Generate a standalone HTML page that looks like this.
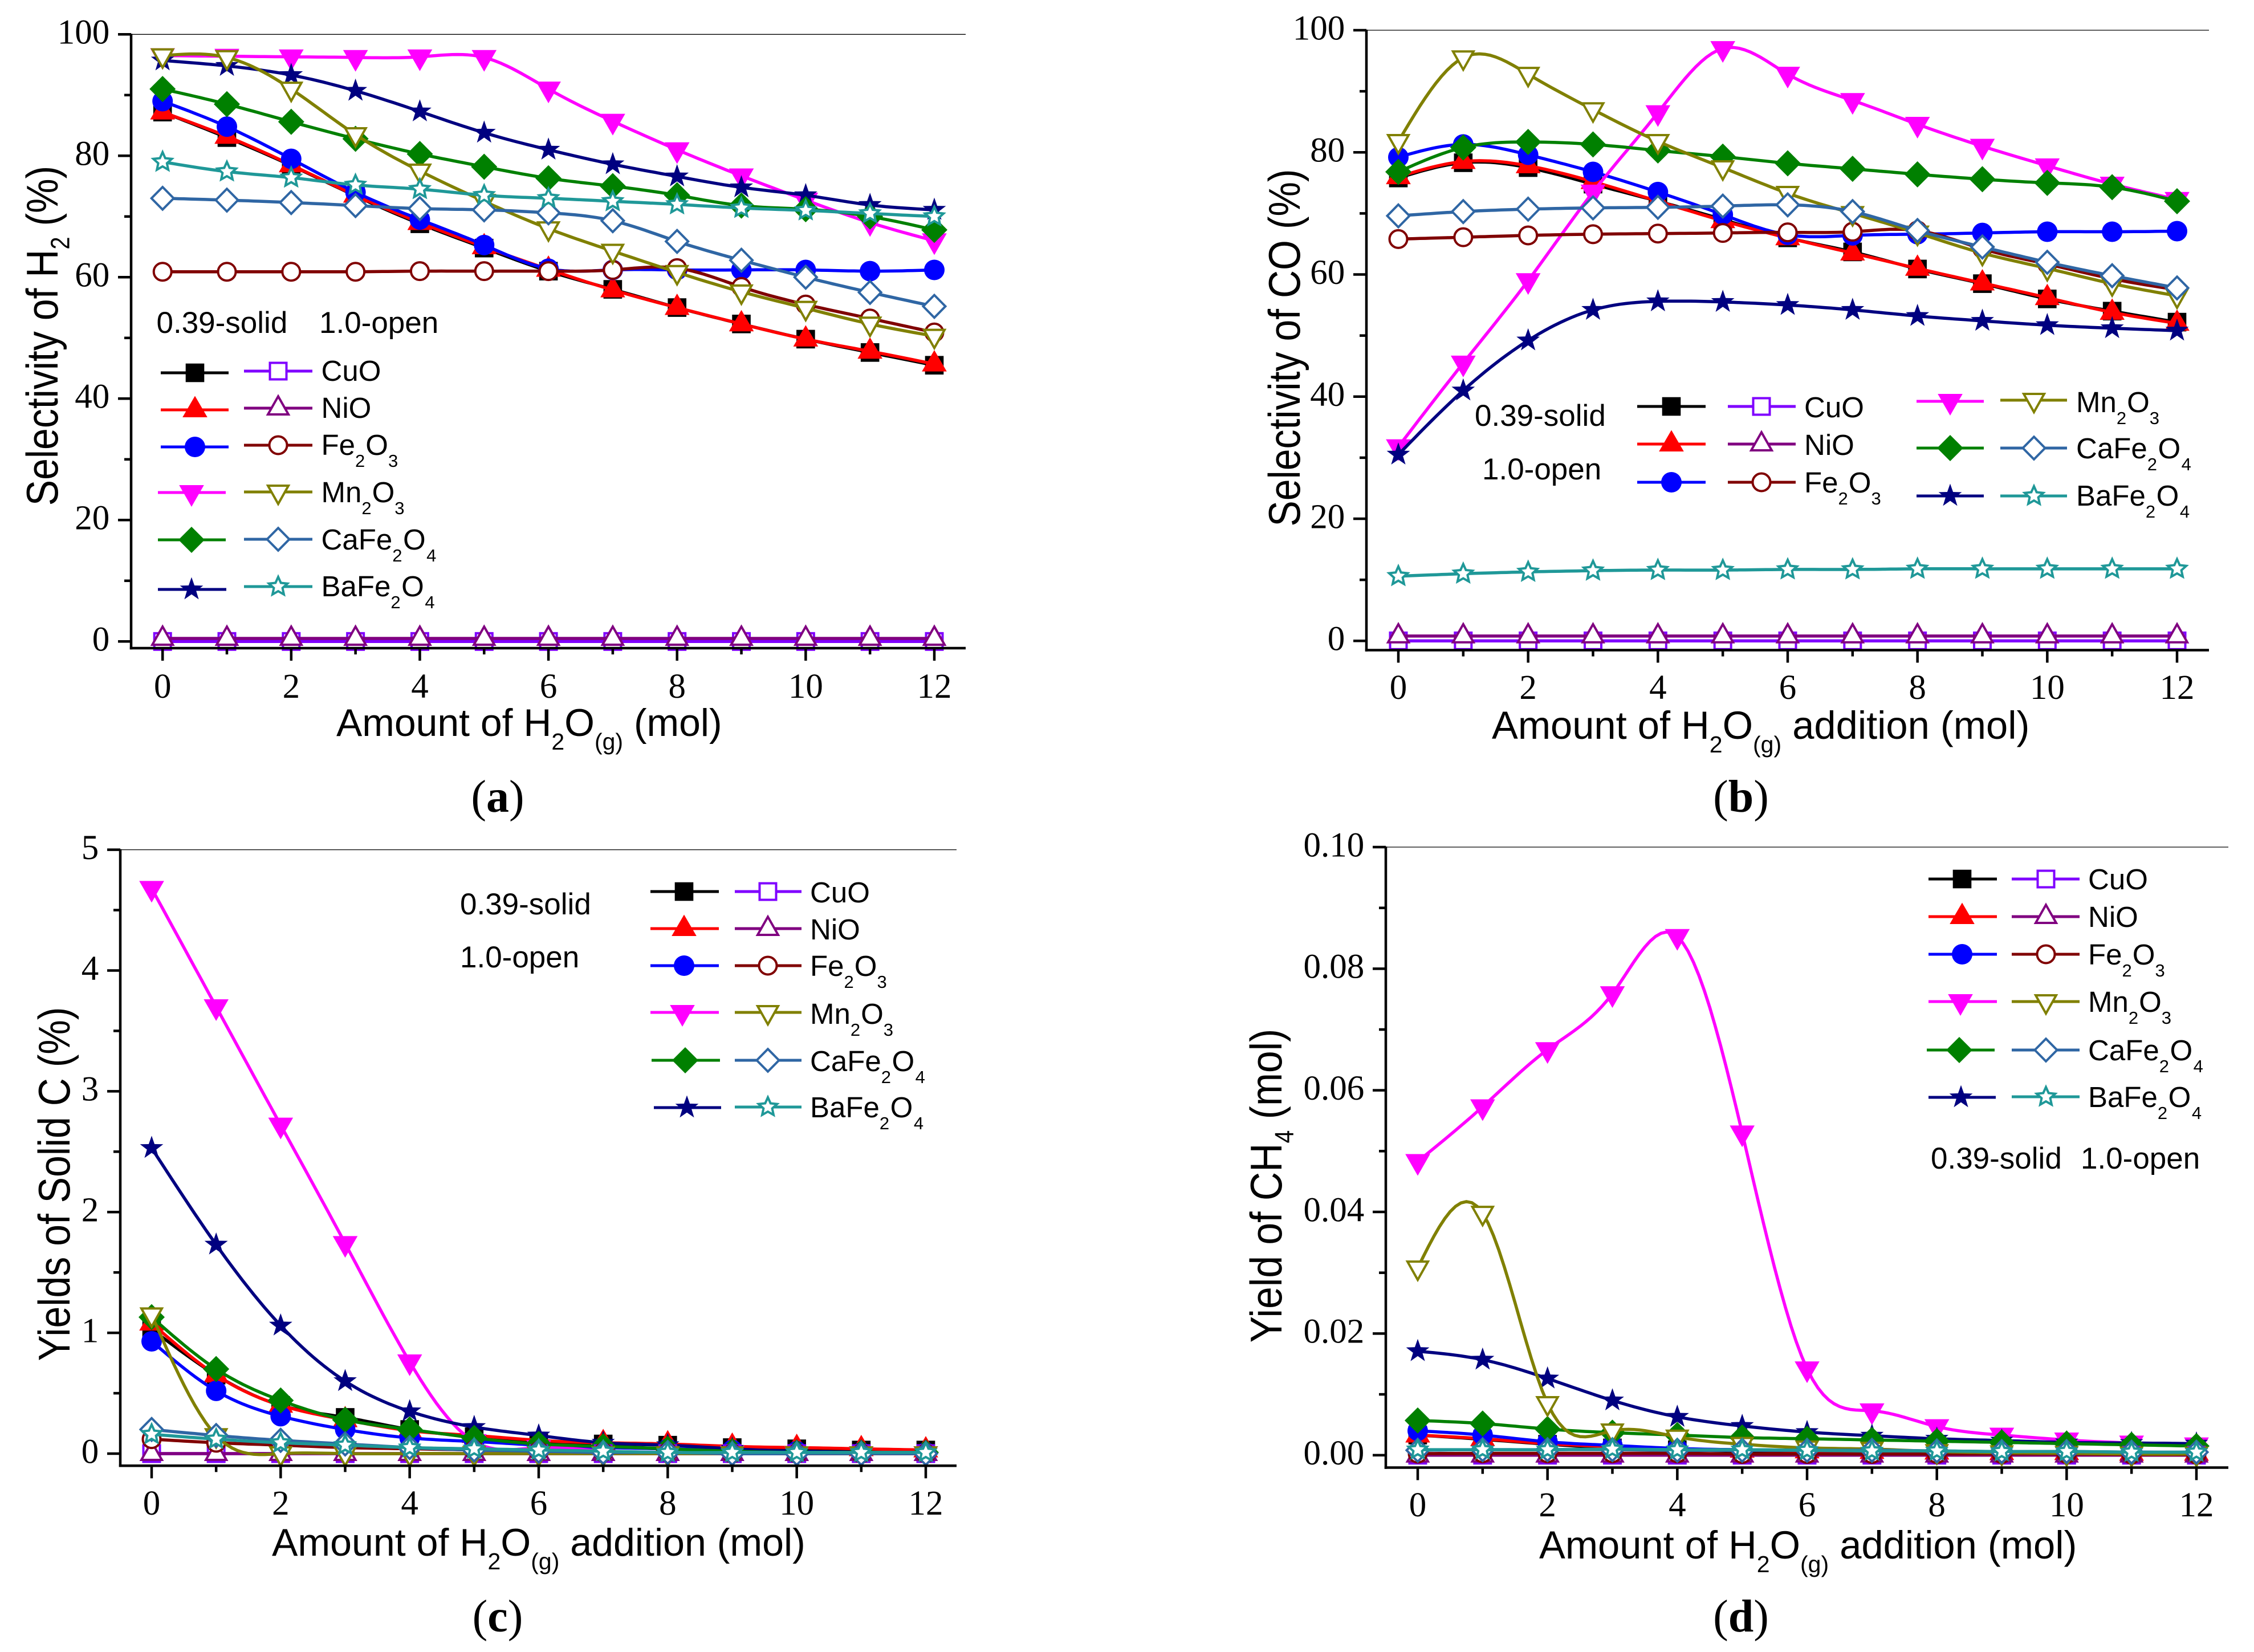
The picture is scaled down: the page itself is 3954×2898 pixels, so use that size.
<!DOCTYPE html>
<html lang="en">
<head>
<meta charset="utf-8">
<title>Selectivity and yields versus H2O addition</title>
<style>
html,body{margin:0;padding:0;background:#fff;}
svg{display:block;}
.lg{font-family:"Liberation Sans",sans-serif;font-size:51px;fill:#000;}
.nt{font-family:"Liberation Sans",sans-serif;font-size:53px;fill:#000;}
.ti{font-family:"Liberation Sans",sans-serif;font-size:68.7px;fill:#000;}
.ty{font-family:"Liberation Sans",sans-serif;font-size:68px;fill:#000;}
.tk{font-family:"Liberation Serif",serif;font-size:61px;fill:#000;}
.pl{font-family:"Liberation Serif",serif;font-size:80px;fill:#000;text-anchor:middle;}
.pl .b{font-weight:bold;}
.s{font-size:31px;}
.ss{font-size:41px;}
.sy{font-size:40px;}
</style>
</head>
<body>
<svg id="figure" xmlns="http://www.w3.org/2000/svg" width="3954" height="2898" viewBox="0 0 3954 2898">
<rect width="3954" height="2898" fill="#fff"/>
<g id="plot-a"></g>
<g id="plot-b"></g>
<g id="plot-c"></g>
<g id="plot-d"></g>

<!-- axis titles -->
<text class="ty" text-anchor="middle" transform="translate(101,589) rotate(-90) scale(1,1.15)">Selectivity of H<tspan class="sy" dy="18">2</tspan><tspan dy="-18"> (%)</tspan></text>
<text class="ti" style="font-size:67.9px" x="590" y="1291">Amount of H<tspan class="ss" dy="24">2</tspan><tspan dy="-24">O</tspan><tspan class="ss" dy="24">(g)</tspan><tspan dy="-24"> (mol)</tspan></text>
<text class="ty" text-anchor="middle" transform="translate(2280,610) rotate(-90) scale(1,1.15)">Selectivity of CO (%)</text>
<text class="ti" x="2617" y="1296">Amount of H<tspan class="ss" dy="24">2</tspan><tspan dy="-24">O</tspan><tspan class="ss" dy="24">(g)</tspan><tspan dy="-24"> addition (mol)</tspan></text>
<text class="ty" text-anchor="middle" transform="translate(122,2077) rotate(-90) scale(1,1.15)">Yields of Solid C (%)</text>
<text class="ti" style="font-size:68.1px" x="477" y="2729">Amount of H<tspan class="ss" dy="24">2</tspan><tspan dy="-24">O</tspan><tspan class="ss" dy="24">(g)</tspan><tspan dy="-24"> addition (mol)</tspan></text>
<text class="ty" text-anchor="middle" transform="translate(2248,2080) rotate(-90) scale(1.025,1.15)">Yield of CH<tspan class="sy" dy="18">4</tspan><tspan dy="-18"> (mol)</tspan></text>
<text class="ti" x="2700" y="2734">Amount of H<tspan class="ss" dy="24">2</tspan><tspan dy="-24">O</tspan><tspan class="ss" dy="24">(g)</tspan><tspan dy="-24"> addition (mol)</tspan></text>

<!-- panel captions -->
<text class="pl" x="873" y="1424">(<tspan class="b">a</tspan>)</text>
<text class="pl" x="3054" y="1424">(<tspan class="b">b</tspan>)</text>
<text class="pl" x="873" y="2862">(<tspan class="b">c</tspan>)</text>
<text class="pl" x="3054" y="2862">(<tspan class="b">d</tspan>)</text>

<!-- annotations -->
<text class="nt" x="274.5" y="584">0.39-solid</text>
<text class="nt" x="560" y="584">1.0-open</text>
<text class="nt" x="2587" y="747">0.39-solid</text>
<text class="nt" x="2600" y="841">1.0-open</text>
<text class="nt" x="807" y="1604">0.39-solid</text>
<text class="nt" x="807" y="1697">1.0-open</text>
<text class="nt" x="3387" y="2050">0.39-solid</text>
<text class="nt" x="3650" y="2050">1.0-open</text>

<!-- legend labels panel a -->
<text class="lg" x="563.5" y="668">CuO</text>
<text class="lg" x="563.5" y="733">NiO</text>
<text class="lg" x="563.5" y="798">Fe<tspan class="s" dy="21">2</tspan><tspan dy="-21" dx="1">O</tspan><tspan class="s" dy="21">3</tspan></text>
<text class="lg" x="563.5" y="881">Mn<tspan class="s" dy="21">2</tspan><tspan dy="-21" dx="1">O</tspan><tspan class="s" dy="21">3</tspan></text>
<text class="lg" x="563.5" y="964">CaFe<tspan class="s" dy="21">2</tspan><tspan dy="-21" dx="1.5">O</tspan><tspan class="s" dy="21" dx="1.5">4</tspan></text>
<text class="lg" x="563.5" y="1046">BaFe<tspan class="s" dy="21">2</tspan><tspan dy="-21" dx="1.5">O</tspan><tspan class="s" dy="21" dx="1.5">4</tspan></text>
<!-- legend labels panel b -->
<text class="lg" x="3165" y="732">CuO</text>
<text class="lg" x="3165" y="798">NiO</text>
<text class="lg" x="3165" y="864">Fe<tspan class="s" dy="21">2</tspan><tspan dy="-21" dx="1">O</tspan><tspan class="s" dy="21">3</tspan></text>
<text class="lg" x="3642" y="723">Mn<tspan class="s" dy="21">2</tspan><tspan dy="-21" dx="1">O</tspan><tspan class="s" dy="21">3</tspan></text>
<text class="lg" x="3642" y="804">CaFe<tspan class="s" dy="21">2</tspan><tspan dy="-21" dx="1.5">O</tspan><tspan class="s" dy="21" dx="1.5">4</tspan></text>
<text class="lg" x="3642" y="887">BaFe<tspan class="s" dy="21">2</tspan><tspan dy="-21" dx="1.5">O</tspan><tspan class="s" dy="21" dx="1.5">4</tspan></text>
<!-- legend labels panel c -->
<text class="lg" x="1421" y="1583">CuO</text>
<text class="lg" x="1421" y="1648">NiO</text>
<text class="lg" x="1421" y="1712">Fe<tspan class="s" dy="21">2</tspan><tspan dy="-21" dx="1">O</tspan><tspan class="s" dy="21">3</tspan></text>
<text class="lg" x="1421" y="1796">Mn<tspan class="s" dy="21">2</tspan><tspan dy="-21" dx="1">O</tspan><tspan class="s" dy="21">3</tspan></text>
<text class="lg" x="1421" y="1879">CaFe<tspan class="s" dy="21">2</tspan><tspan dy="-21" dx="1.5">O</tspan><tspan class="s" dy="21" dx="1.5">4</tspan></text>
<text class="lg" x="1421" y="1960">BaFe<tspan class="s" dy="21">2</tspan><tspan dy="-21" dx="1.5">O</tspan><tspan class="s" dy="21" dx="1.5">4</tspan></text>
<!-- legend labels panel d -->
<text class="lg" x="3663" y="1560">CuO</text>
<text class="lg" x="3663" y="1626">NiO</text>
<text class="lg" x="3663" y="1692">Fe<tspan class="s" dy="21">2</tspan><tspan dy="-21" dx="1">O</tspan><tspan class="s" dy="21">3</tspan></text>
<text class="lg" x="3663" y="1775">Mn<tspan class="s" dy="21">2</tspan><tspan dy="-21" dx="1">O</tspan><tspan class="s" dy="21">3</tspan></text>
<text class="lg" x="3663" y="1860">CaFe<tspan class="s" dy="21">2</tspan><tspan dy="-21" dx="1.5">O</tspan><tspan class="s" dy="21" dx="1.5">4</tspan></text>
<text class="lg" x="3663" y="1942">BaFe<tspan class="s" dy="21">2</tspan><tspan dy="-21" dx="1.5">O</tspan><tspan class="s" dy="21" dx="1.5">4</tspan></text>
</svg>

<script>
// ---------- categories and tick labels ----------
const categories = [0,1,2,3,4,5,6,7,8,9,10,11,12];
const xTickLabels = [0,2,4,6,8,10,12];
const yTicksA = [0,20,40,60,80,100];
const yTicksB = [0,20,40,60,80,100];
const yTicksC = [0,1,2,3,4,5];
const yTicksD = [0,0.02,0.04,0.06,0.08,0.10];

// ---------- panel a: selectivity of H2 ----------
const aCuO   = [87.2,83,78.4,73.4,68.8,64.8,61,58,55,52.3,49.8,47.6,45.5];
const aNiO   = [87.2,83.2,78.5,73.5,69,65,61.3,57.9,55,52.3,49.8,47.8,45.7];
const aFe    = [89,84.8,79.5,74,69.5,65.3,61.4,61.2,61.2,61.2,61.2,61,61.2];
const aMn    = [96.5,96.4,96.3,96.2,96.3,96.2,91,85.7,81,76.7,72.7,69,66];
const aCa    = [91,88.5,85.6,82.8,80.3,78.2,76.3,75,73.5,71.8,71.2,70,67.8];
const aBa    = [95.7,94.8,93.3,90.7,87.3,83.8,81,78.6,76.6,74.8,73.5,71.9,71.1];
const aCuOo  = [0,0,0,0,0,0,0,0,0,0,0,0,0];
const aNiOo  = [0.5,0.5,0.5,0.5,0.5,0.5,0.5,0.5,0.5,0.5,0.5,0.5,0.5];
const aFeo   = [60.9,60.9,60.9,60.9,61,61,61,61.2,61.5,58.4,55.5,53.2,50.9];
const aMno   = [96.5,96.2,91,83.5,77.5,72.5,68,64.3,60.8,57.6,54.9,52.3,50.3];
const aCao   = [73,72.7,72.3,71.8,71.3,71.1,70.6,69.3,65.9,62.8,60,57.5,55.2];
const aBao   = [79,77.4,76.4,75.2,74.5,73.5,73,72.5,72,71.4,71,70.5,70];

// ---------- panel b: selectivity of CO ----------
const bCuO   = [75.8,78.3,77.5,74.8,72,69,66,63.7,60.9,58.5,56,54,52.2];
const bNiO   = [76,78.5,77.8,75.2,72,68.8,66,63.5,61,58.6,56.2,53.8,52];
const bFe    = [79.2,81.3,79.6,76.8,73.5,69.8,66.5,66.4,66.6,66.8,67,67,67.1];
const bMn    = [31.8,45.5,59,73.5,86.5,97,92.8,88.5,84.6,81,77.8,74.8,72.3];
const bCa    = [76.8,80.8,81.7,81.3,80.3,79.3,78.2,77.3,76.4,75.6,75,74.3,72];
const bBa    = [30.5,41,49.2,54.2,55.6,55.5,55,54.2,53.2,52.4,51.7,51.2,50.8];
const bCuOo  = [0,0,0,0,0,0,0,0,0,0,0,0,0];
const bNiOo  = [0.8,0.8,0.8,0.8,0.8,0.8,0.8,0.8,0.8,0.8,0.8,0.8,0.8];
const bFeo   = [65.8,66.1,66.4,66.6,66.7,66.8,66.9,67,67.2,64.2,61.7,59.3,57.5];
const bMno   = [81.8,95.5,92.8,87,81.8,77.5,73.3,70,66.8,63.5,61,58.5,56.5];
const bCao   = [69.6,70.3,70.7,70.9,71,71.2,71.4,70.3,67.2,64.5,62,59.8,57.8];
const bBao   = [10.6,11,11.3,11.5,11.6,11.6,11.7,11.7,11.8,11.8,11.8,11.8,11.8];

// ---------- panel c: yields of solid C ----------
const cCuO   = [1.03,0.65,0.4,0.3,0.2,0.14,0.1,0.08,0.07,0.05,0.04,0.03,0.03];
const cNiO   = [1.08,0.65,0.4,0.28,0.19,0.15,0.11,0.09,0.08,0.06,0.05,0.04,0.03];
const cFe    = [0.93,0.52,0.31,0.2,0.13,0.1,0.07,0.05,0.04,0.03,0.02,0.01,0.01];
const cMn    = [4.68,3.7,2.72,1.74,0.76,0.1,0.05,0.02,0.01,0.005,0,0,0];
const cCa    = [1.13,0.7,0.44,0.28,0.2,0.13,0.08,0.06,0.04,0.02,0.01,0.01,0.01];
const cBa    = [2.53,1.73,1.06,0.6,0.35,0.22,0.15,0.09,0.07,0.04,0.02,0.01,0.01];
const cCuOo  = [0,0,0,0,0,0,0,0,0,0,0,0,0];
const cNiOo  = [0,0,0,0,0,0,0,0,0,0,0,0,0];
const cFeo   = [0.12,0.09,0.07,0.05,0.04,0.03,0.02,0.01,0.01,0,0,0,0];
const cMno   = [1.15,0.15,0,0,0,0,0,0,0,0,0,0,0];
const cCao   = [0.2,0.15,0.11,0.08,0.05,0.03,0.02,0.01,0.01,0,0,0,0];
const cBao   = [0.16,0.12,0.09,0.07,0.05,0.04,0.03,0.02,0.01,0.01,0.01,0.01,0.01];

// ---------- panel d: yield of CH4 ----------
const dCuO   = [0.0033,0.0026,0.0018,0.0012,0.0009,0.0007,0.0006,0.0005,0.0004,0.0004,0.0003,0.0003,0.0002];
const dNiO   = [0.0033,0.0027,0.0019,0.0014,0.001,0.0008,0.0007,0.0006,0.0005,0.0004,0.0004,0.0003,0.0003];
const dFe    = [0.004,0.0033,0.0022,0.0016,0.0011,0.0009,0.0008,0.0007,0.0006,0.0006,0.0005,0.0005,0.0004];
const dMn    = [0.0483,0.0573,0.0667,0.0759,0.0853,0.053,0.0142,0.0073,0.0047,0.0033,0.0025,0.002,0.0017];
const dCa    = [0.0057,0.0052,0.0043,0.0037,0.0033,0.0029,0.0027,0.0025,0.0023,0.0021,0.0019,0.0017,0.0015];
const dBa    = [0.0171,0.0157,0.0126,0.009,0.0063,0.0048,0.0038,0.0032,0.0027,0.0024,0.0021,0.002,0.0019];
const dCuOo  = [0,0,0,0,0,0,0,0,0,0,0,0,0];
const dNiOo  = [0,0,0,0,0,0,0,0,0,0,0,0,0];
const dFeo   = [0.00025,0.0003,0.0003,0.0003,0.0003,0.0002,0.0002,0.0002,0.0002,0.0002,0.0002,0.0001,0.0001];
const dMno   = [0.0308,0.0398,0.0085,0.004,0.003,0.0018,0.0012,0.001,0.0006,0.0004,0.0003,0.0002,0.0002];
const dCao   = [0.0008,0.0009,0.0009,0.0009,0.0008,0.0008,0.0008,0.0008,0.0007,0.0006,0.0006,0.0005,0.0005];
const dBao   = [0.0009,0.0009,0.0009,0.001,0.0009,0.0009,0.0008,0.0007,0.0007,0.0006,0.0006,0.0005,0.0005];

// ---------- styles ----------
const STYLE = {
  CuO:{name:'cuo-solid',color:'#000000',shape:'square',open:false},
  NiO:{name:'nio-solid',color:'#ff0000',shape:'up',open:false},
  Fe:{name:'fe2o3-solid',color:'#0000ff',shape:'circle',open:false},
  Mn:{name:'mn2o3-solid',color:'#ff00ff',shape:'down',open:false},
  Ca:{name:'cafe2o4-solid',color:'#008000',shape:'diamond',open:false},
  Ba:{name:'bafe2o4-solid',color:'#000080',shape:'star',open:false},
  CuOo:{name:'cuo-open',color:'#7f00ff',shape:'square',open:true},
  NiOo:{name:'nio-open',color:'#800080',shape:'up',open:true},
  Feo:{name:'fe2o3-open',color:'#800000',shape:'circle',open:true},
  Mno:{name:'mn2o3-open',color:'#808000',shape:'down',open:true},
  Cao:{name:'cafe2o4-open',color:'#2f66a4',shape:'diamond',open:true},
  Bao:{name:'bafe2o4-open',color:'#1f9898',shape:'star',open:true}
};

const PANELS = [
 {id:'a',yTicks:yTicksA,fmt:0,minor:10,xlab:87,left:230,right:1694,top:60.3,bottom:1137,xa:285.2,xb:1639,ya:1125.3,yb:60.3,
  series:[['CuO',aCuO],['NiO',aNiO],['Fe',aFe],['Mn',aMn],['Ba',aBa],['Ca',aCa],['CuOo',aCuOo],['NiOo',aNiOo],['Feo',aFeo],['Mno',aMno],['Cao',aCao],['Bao',aBao]],
  legend:[['CuO','CuOo',282,401,342,654,428,548,488,651],['NiO','NiOo',282,401,342,719,428,548,488,716],['Fe','Feo',282,401,342,784,428,548,488,781],['Mn','Mno',277,396,336,864,428,548,488,863],['Ca','Cao',277,396,336,947,428,548,488,946],['Ba','Bao',277,397,336,1034,428,548,488,1029]]},
 {id:'b',yTicks:yTicksB,fmt:0,minor:10,xlab:85.5,left:2397,right:3875,top:53,bottom:1140.5,xa:2453,xb:3819,ya:1124.3,yb:53,
  series:[['CuO',bCuO],['NiO',bNiO],['Fe',bFe],['Mn',bMn],['Ba',bBa],['Ca',bCa],['CuOo',bCuOo],['NiOo',bNiOo],['Feo',bFeo],['Mno',bMno],['Cao',bCao],['Bao',bBao]],
  legend:[['CuO','CuOo',2872,2992,2932,713,3031,3150,3090,713],['NiO','NiOo',2872,2992,2932,779,3031,3150,3090,779],['Fe','Feo',2872,2992,2932,846,3031,3150,3090,846],['Mn','Mno',3362,3480,3421,704,3509,3626,3568,702],['Ca','Cao',3362,3480,3421,786,3509,3626,3568,786],['Ba','Bao',3362,3480,3421,870,3509,3626,3568,870]]},
 {id:'c',yTicks:yTicksC,fmt:0,minor:0.5,xlab:85.5,left:211,right:1678,top:1490.6,bottom:2571.3,xa:266,xb:1624,ya:2550,yb:1490.6,
  series:[['CuO',cCuO],['NiO',cNiO],['Fe',cFe],['Mn',cMn],['Ba',cBa],['Ca',cCa],['CuOo',cCuOo],['NiOo',cNiOo],['Feo',cFeo],['Mno',cMno],['Cao',cCao],['Bao',cBao]],
  legend:[['CuO','CuOo',1141,1261,1200,1564,1289,1406,1347,1564],['NiO','NiOo',1141,1261,1200,1629,1289,1406,1347,1629],['Fe','Feo',1141,1261,1200,1694,1289,1406,1347,1694],['Mn','Mno',1141,1261,1197,1776,1289,1406,1347,1776],['Ca','Cao',1143,1263,1202,1860,1289,1406,1347,1860],['Ba','Bao',1147,1265,1205,1943,1289,1406,1347,1942]]},
 {id:'d',yTicks:yTicksD,fmt:2,minor:0.01,xlab:85.5,left:2431,right:3909,top:1486,bottom:2574.5,xa:2487,xb:3853,ya:2552.7,yb:1486,
  series:[['CuO',dCuO],['NiO',dNiO],['Fe',dFe],['Mn',dMn],['Ba',dBa],['Ca',dCa],['CuOo',dCuOo],['NiOo',dNiOo],['Feo',dFeo],['Mno',dMno],['Cao',dCao],['Bao',dBao]],
  legend:[['CuO','CuOo',3383,3503,3442,1542,3529,3648,3589,1542],['NiO','NiOo',3383,3503,3442,1608,3529,3648,3589,1608],['Fe','Feo',3383,3503,3442,1674,3529,3648,3589,1674],['Mn','Mno',3383,3503,3439,1757,3529,3648,3589,1757],['Ca','Cao',3380,3499,3437,1842,3529,3648,3589,1842],['Ba','Bao',3383,3501,3440,1925,3529,3648,3589,1924]]}
];

const NS = 'http://www.w3.org/2000/svg';
function mk(tag, attrs, parent){
  const el = document.createElementNS(NS, tag);
  for (const k in attrs) el.setAttribute(k, attrs[k]);
  parent.appendChild(el);
  return el;
}

// natural cubic spline through all points, returned as an SVG path
function splinePath(xs, ys, xf, yf){
  const n = xs.length;
  const a = new Array(n).fill(0), b = new Array(n).fill(0), c = new Array(n).fill(0), r = new Array(n).fill(0);
  b[0] = 1; b[n-1] = 1;
  for (let i = 1; i < n-1; i++){
    const h0 = xs[i]-xs[i-1], h1 = xs[i+1]-xs[i];
    a[i] = h0; b[i] = 2*(h0+h1); c[i] = h1;
    r[i] = 6*((ys[i+1]-ys[i])/h1-(ys[i]-ys[i-1])/h0);
  }
  for (let i = 1; i < n; i++){
    const m = a[i]/b[i-1];
    b[i] -= m*c[i-1];
    r[i] -= m*r[i-1];
  }
  const M = new Array(n).fill(0);
  M[n-1] = r[n-1]/b[n-1];
  for (let i = n-2; i >= 0; i--) M[i] = (r[i]-c[i]*M[i+1])/b[i];
  let d = 'M' + xf(xs[0]).toFixed(1) + ' ' + yf(ys[0]).toFixed(1);
  const steps = 12;
  for (let i = 0; i < n-1; i++){
    const h = xs[i+1]-xs[i];
    for (let s = 1; s <= steps; s++){
      const t = s/steps, A = 1-t, B = t;
      const v = A*ys[i]+B*ys[i+1]+((A*A*A-A)*M[i]+(B*B*B-B)*M[i+1])*h*h/6;
      d += 'L' + xf(xs[i]+t*h).toFixed(1) + ' ' + yf(v).toFixed(1);
    }
  }
  return d;
}

function starPoints(cx, cy, R, r){
  const pts = [];
  for (let i = 0; i < 10; i++){
    const ang = -Math.PI/2 + i*Math.PI/5, rad = i%2 ? r : R;
    pts.push((cx+rad*Math.cos(ang)).toFixed(1)+','+(cy+rad*Math.sin(ang)).toFixed(1));
  }
  return pts.join(' ');
}

function marker(st, cx, cy, parent){
  const fill = st.open ? '#ffffff' : st.color;
  const sw = st.open ? 4 : 0;
  const base = {fill:fill, stroke:st.color, 'stroke-width':sw, 'stroke-linejoin':'miter', 'stroke-miterlimit':6};
  let el;
  if (st.shape === 'square'){
    const h = st.open ? 14.5 : 16.3;
    el = mk('rect', Object.assign({x:cx-h, y:cy-h, width:2*h, height:2*h}, base), parent);
  } else if (st.shape === 'circle'){
    const rad = st.open ? 15.5 : 18;
    el = mk('ellipse', Object.assign({cx:cx, cy:cy, rx:rad, ry:rad}, base), parent);
  } else if (st.shape === 'up'){
    const w = st.open ? 18 : 21.8, t = st.open ? 20.7 : 24.5, bt = st.open ? 11 : 13;
    el = mk('polygon', Object.assign({points:cx+','+(cy-t)+' '+(cx+w)+','+(cy+bt)+' '+(cx-w)+','+(cy+bt)}, base), parent);
  } else if (st.shape === 'down'){
    const w = st.open ? 18 : 21.8, t = st.open ? 11 : 13, bt = st.open ? 21 : 25;
    el = mk('polygon', Object.assign({points:(cx-w)+','+(cy-t)+' '+(cx+w)+','+(cy-t)+' '+cx+','+(cy+bt)}, base), parent);
  } else if (st.shape === 'diamond'){
    const w = st.open ? 19.5 : 23, h = st.open ? 19.8 : 23;
    el = mk('polygon', Object.assign({points:cx+','+(cy-h)+' '+(cx+w)+','+cy+' '+cx+','+(cy+h)+' '+(cx-w)+','+cy}, base), parent);
  } else {
    const R = st.open ? 17 : 21.5, r = st.open ? 8 : 8.6;
    el = mk('polygon', Object.assign({points:starPoints(cx, cy, R, r)}, base), parent);
  }
  return el;
}

function drawPanel(p){
  const root = document.getElementById('plot-' + p.id);
  const xf = function(v){ return p.xa + (v-categories[0])*(p.xb-p.xa)/(categories[categories.length-1]-categories[0]); };
  const yMaxVal = p.yTicks[p.yTicks.length-1];
  const yf = function(v){ return p.ya + v*(p.yb-p.ya)/yMaxVal; };

  // series
  p.series.forEach(function(entry){
    const st = STYLE[entry[0]], vals = entry[1];
    const g = mk('g', {}, root);
    
    
    const line = mk('path', {d:splinePath(categories, vals, xf, yf), fill:'none', stroke:st.color, 'stroke-width':5.5, 'stroke-linejoin':'round'}, g);
    
    
    vals.forEach(function(v, i){
      const m = marker(st, xf(categories[i]), yf(v), g);
      
      
    });
  });

  // axes
  const axes = mk('g', {}, root);
  
  
  const yAxis = mk('line', {x1:p.left, x2:p.left, y1:p.top-1, y2:p.bottom+2.2, stroke:'#000', 'stroke-width':4.5}, axes);
  
  
  const xAxis = mk('line', {x1:p.left-2.2, x2:p.right, y1:p.bottom, y2:p.bottom, stroke:'#000', 'stroke-width':4.5}, axes);
  
  
  const topLine = mk('line', {x1:p.left, x2:p.right, y1:p.top, y2:p.top, stroke:'#000', 'stroke-width':1.3}, axes);
  
  

  // y ticks
  const nMinor = Math.round(yMaxVal/p.minor);
  for (let i = 0; i <= nMinor; i++){
    const v = i*p.minor, major = i%2 === 0, y = yf(v);
    const t = mk('line', {x1:p.left-(major?23:12), x2:p.left, y1:y, y2:y, stroke:'#000', 'stroke-width':4.5}, axes);
    
    
  }
  p.yTicks.forEach(function(v){
    const t = mk('text', {x:p.left-37.7, y:yf(v)+16.3, 'text-anchor':'end', 'class':'tk'}, axes);
    t.textContent = p.fmt ? v.toFixed(p.fmt) : String(v);
    
    
  });

  // x ticks
  categories.forEach(function(v){
    const major = v%2 === 0, x = xf(v);
    const t = mk('line', {x1:x, x2:x, y1:p.bottom, y2:p.bottom+(major?22:11), stroke:'#000', 'stroke-width':4.5}, axes);
    
    
  });
  xTickLabels.forEach(function(v){
    const t = mk('text', {x:xf(v), y:p.bottom+p.xlab, 'text-anchor':'middle', 'class':'tk'}, axes);
    t.textContent = String(v);
    
    
  });

  // legend glyphs
  const lg = mk('g', {}, root);
  
  
  p.legend.forEach(function(r){
    const a = STYLE[r[0]], b = STYLE[r[1]];
    const l1 = mk('line', {x1:r[2], x2:r[3], y1:r[5], y2:r[5], stroke:a.color, 'stroke-width':5}, lg);
    
    
    const m1 = marker(a, r[4], r[5], lg);
    
    
    const l2 = mk('line', {x1:r[6], x2:r[7], y1:r[9], y2:r[9], stroke:b.color, 'stroke-width':5}, lg);
    
    
    const m2 = marker(b, r[8], r[9], lg);
    
    
  });
}
PANELS.forEach(drawPanel);
</script>
</body>
</html>
